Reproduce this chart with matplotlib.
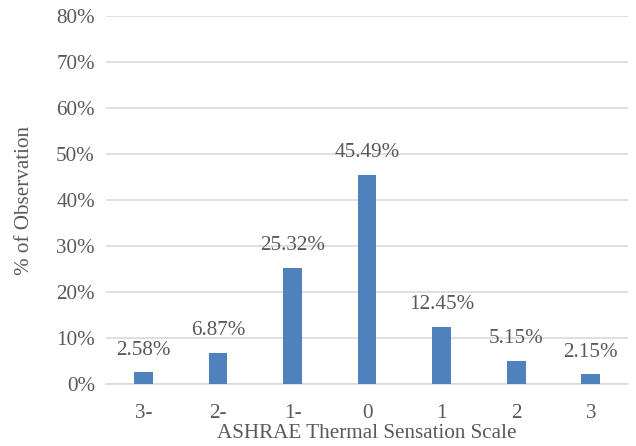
import matplotlib
matplotlib.use('Agg')
import matplotlib.pyplot as plt
from matplotlib.ticker import FuncFormatter

categories = ['3-', '2-', '1-', '0', '1', '2', '3']
values = [2.58, 6.87, 25.32, 45.49, 12.45, 5.15, 2.15]
y_ticks = [0, 10, 20, 30, 40, 50, 60, 70, 80]

plt.rcParams['font.family'] = ['Liberation Serif', 'DejaVu Serif']
txt_color = '#595959'
fs = 15.2

fig = plt.figure(figsize=(6.36, 4.46), dpi=100)
ax = fig.add_axes([0.1667, 0.1383, 0.8208, 0.8265])

x = list(range(len(categories)))
ax.bar(x, values, width=0.25, color='#4F81BD', zorder=3)

for xi, v in zip(x, values):
    ax.annotate('%.2f%%' % v, (xi, v), xytext=(0, 9), textcoords='offset points',
                ha='center', va='bottom', fontsize=fs, color=txt_color)

ax.set_xlim(-0.5, len(categories) - 0.5)
ax.set_ylim(0, 80)
ax.set_yticks(y_ticks)
ax.yaxis.set_major_formatter(FuncFormatter(lambda v, p: '%d%%' % v))
ax.set_xticks(x)
ax.set_xticklabels(categories)

ax.grid(axis='y', color='#D9D9D9', linewidth=1.2, zorder=0)
for s in ['left', 'right', 'top']:
    ax.spines[s].set_visible(False)
ax.spines['bottom'].set_color('#D9D9D9')
ax.spines['bottom'].set_linewidth(1.2)
ax.tick_params(axis='both', length=0, labelsize=fs, colors=txt_color)
ax.tick_params(axis='x', pad=14)
ax.tick_params(axis='y', pad=8)

ax.set_xlabel('ASHRAE Thermal Sensation Scale', fontsize=fs, color=txt_color, labelpad=1)
ax.set_ylabel('% of Observation', fontsize=fs, color=txt_color, labelpad=16)

fig.savefig('out.png', dpi=100)
plt.close('all')
